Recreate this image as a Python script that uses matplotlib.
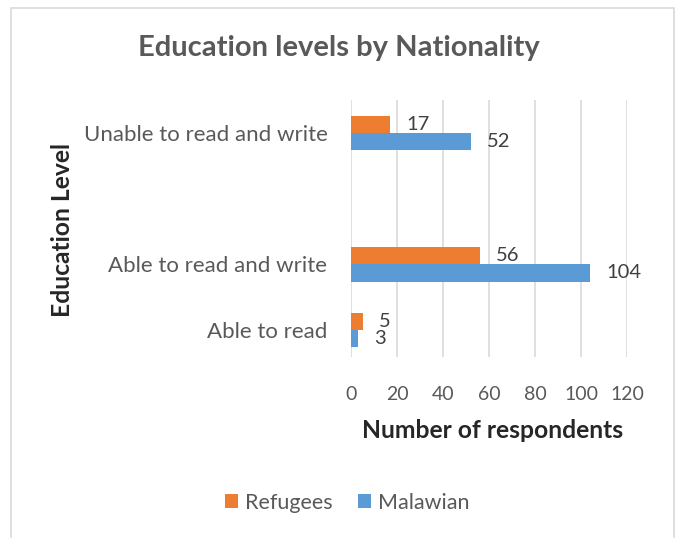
import matplotlib
matplotlib.use("Agg")
import matplotlib.pyplot as plt
from matplotlib.patches import Rectangle, Patch
import numpy as np

plt.rcParams['font.family'] = ['Lato', 'DejaVu Sans']

# Education categories (bottom to top); the blank slot keeps an empty row
categories = ["Able to read", "Able to read and write", "", "Unable to read and write"]
refugees = [5, 56, None, 17]
malawian = [3, 104, None, 52]
series_names = ["Refugees", "Malawian"]
x_ticks = [0, 20, 40, 60, 80, 100, 120]

orange = "#ED7D31"
blue = "#5B9BD5"
text_grey = "#595959"
dark = "#262626"

W, H = 675, 538
fig = plt.figure(figsize=(W / 100, H / 100), dpi=100)

# light outer frame of the chart area
fig.patches.append(Rectangle((11 / W, -0.01), (674 - 11) / W, 1 - 8 / H + 0.01,
                             transform=fig.transFigure, fill=False,
                             edgecolor="#D9D9D9", linewidth=1.2))

ax = fig.add_axes([351 / W, 1 - 357 / H, (627 - 351) / W, (357 - 100) / H])

y = np.arange(len(categories))
h = 0.263
for i in range(len(categories)):
    if refugees[i] is None:
        continue
    ax.barh(y[i] + h / 2, refugees[i], height=h, color=orange, zorder=3)
    ax.barh(y[i] - h / 2, malawian[i], height=h, color=blue, zorder=3)
    for val, yy in ((refugees[i], y[i] + h / 2), (malawian[i], y[i] - h / 2)):
        ax.annotate(str(val), xy=(val, yy), xytext=(11.5, 0), textcoords="offset points",
                    ha="left", va="center", fontsize=14.5, color="#404040")

ax.set_xlim(0, 120)
ax.set_ylim(-0.41, 3.5)
ax.set_xticks(x_ticks)
ax.set_xticklabels([str(t) for t in x_ticks])
ax.set_yticks(y)
ax.set_yticklabels(categories)
ax.grid(axis="x", color="#D9D9D9", linewidth=1.2, zorder=0)
ax.set_axisbelow(True)
for s in ax.spines.values():
    s.set_visible(False)
ax.tick_params(axis="x", length=0, pad=21, labelsize=14, labelcolor=text_grey)
ax.tick_params(axis="y", length=0, pad=17, labelsize=16, labelcolor=text_grey)

fig.text(339 / W, 1 - 48 / H, "Education levels by Nationality", ha="center", va="center",
         fontsize=21, fontweight="bold", color=text_grey)
fig.text(493 / W, 1 - 430 / H, "Number of respondents", ha="center", va="center",
         fontsize=17.7, fontweight="bold", color=dark)
fig.text(62.5 / W, 1 - 230 / H, "Education Level", ha="center", va="center",
         rotation=90, fontsize=17.7, fontweight="bold", color=dark)

handles = [Patch(facecolor=orange, label=series_names[0]),
           Patch(facecolor=blue, label=series_names[1])]
leg = fig.legend(handles=handles, loc="center", bbox_to_anchor=(347 / W, 1 - 503 / H),
                 ncol=2, frameon=False, fontsize=15.5, handlelength=0.62, handleheight=0.62,
                 handletextpad=0.3, columnspacing=1.2)
for t in leg.get_texts():
    t.set_color(text_grey)

fig.savefig("out.png", dpi=100)
